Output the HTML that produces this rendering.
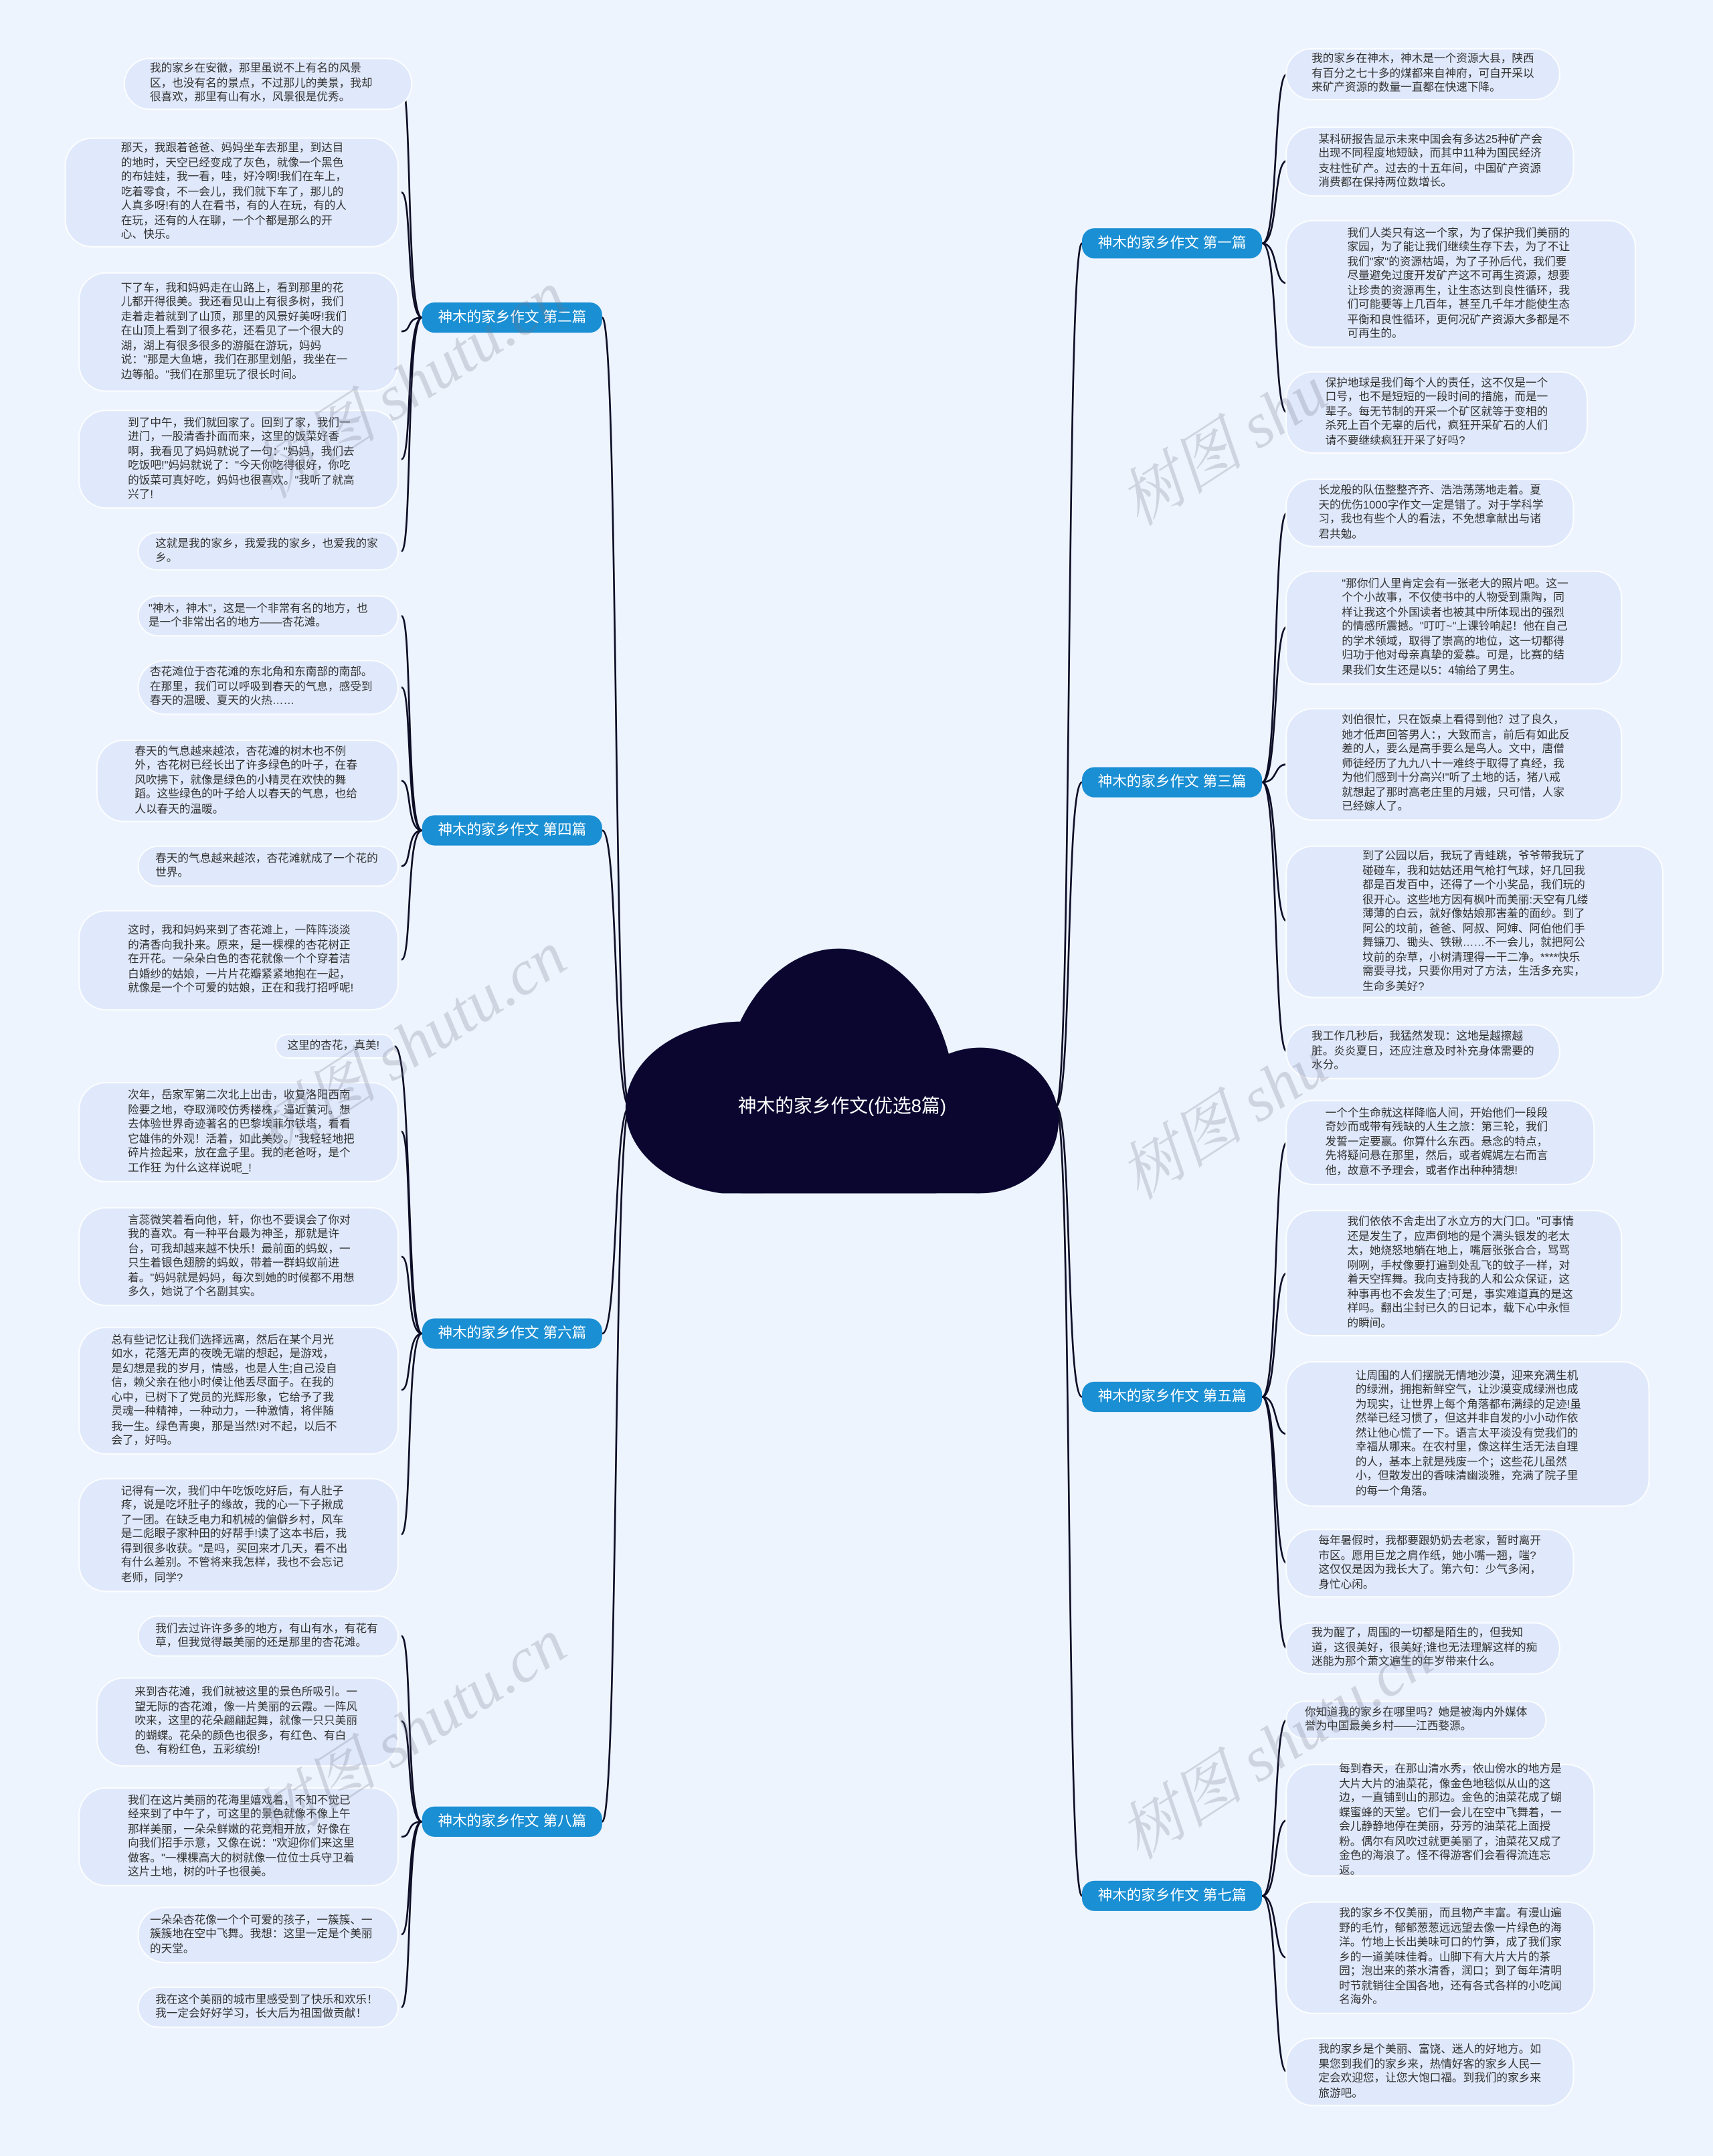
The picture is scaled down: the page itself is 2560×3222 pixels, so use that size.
<!DOCTYPE html>
<html><head><meta charset="utf-8">
<style>
html,body{margin:0;padding:0;background:#eef4fe;}
body{width:2560px;height:3222px;overflow:hidden;position:relative;}
#c{position:absolute;left:0;top:0;width:1246px;height:1568px;transform:scale(2.0546);transform-origin:0 0;font-family:"Liberation Sans","Noto Sans CJK SC",sans-serif;}
.l{position:absolute;background:#e0e9fb;border:1px solid #fbfdff;border-radius:20px;box-sizing:border-box;display:flex;align-items:center;}
.l span{display:block;width:166px;font-size:8.1px;line-height:10.5px;color:#333;word-break:break-all;}
.b{position:absolute;width:131px;height:22px;background:#1a8fd3;border-radius:9px;color:#fff;font-size:10.5px;line-height:22px;text-align:center;}
.w{position:absolute;font-family:"Liberation Serif","Noto Serif CJK SC",serif;font-style:italic;font-size:46px;color:rgba(110,115,135,0.25);transform:rotate(-33deg);white-space:nowrap;transform-origin:0 0;}
</style></head><body><div id="c">
<svg width="1246" height="1568" style="position:absolute;left:0;top:0" fill="none" stroke="#0d0d26" stroke-width="1.3">
<defs><clipPath id="cc"><rect x="0" y="0" width="1246" height="868"/></clipPath></defs>
<path d="M458,805 C446,805 450,231 438,231"/>
<path d="M458,805 C446,805 450,604 438,604"/>
<path d="M458,805 C446,805 450,970 438,970"/>
<path d="M458,805 C446,805 450,1325 438,1325"/>
<path d="M768,805 C780,805 775,177 787,177"/>
<path d="M768,805 C780,805 775,569 787,569"/>
<path d="M768,805 C780,805 775,1016 787,1016"/>
<path d="M768,805 C780,805 775,1379 787,1379"/>
<path d="M307,231 C295,231 300,61 292,61"/><path d="M307,231 C295,231 300,140 292,140"/><path d="M307,231 C295,231 300,241 292,241"/><path d="M307,231 C295,231 300,334 292,334"/><path d="M307,231 C295,231 300,401 292,401"/>
<path d="M307,604 C295,604 300,448 292,448"/><path d="M307,604 C295,604 300,500 292,500"/><path d="M307,604 C295,604 300,568 292,568"/><path d="M307,604 C295,604 300,630 292,630"/><path d="M307,604 C295,604 300,698 292,698"/>
<path d="M307,970 C295,970 300,761 287,761"/><path d="M307,970 C295,970 300,823 292,823"/><path d="M307,970 C295,970 300,914 292,914"/><path d="M307,970 C295,970 300,1011 292,1011"/><path d="M307,970 C295,970 300,1116 292,1116"/>
<path d="M307,1325 C295,1325 300,1190 292,1190"/><path d="M307,1325 C295,1325 300,1252 292,1252"/><path d="M307,1325 C295,1325 300,1336 292,1336"/><path d="M307,1325 C295,1325 300,1407 292,1407"/><path d="M307,1325 C295,1325 300,1460 292,1460"/>
<path d="M918,177 C930,177 926,54 936,54"/><path d="M918,177 C930,177 926,117 936,117"/><path d="M918,177 C930,177 926,206 936,206"/><path d="M918,177 C930,177 926,300 936,300"/>
<path d="M918,569 C930,569 926,373 936,373"/><path d="M918,569 C930,569 926,456 936,456"/><path d="M918,569 C930,569 926,556 936,556"/><path d="M918,569 C930,569 926,670 936,670"/><path d="M918,569 C930,569 926,765 936,765"/>
<path d="M918,1016 C930,1016 926,831 936,831"/><path d="M918,1016 C930,1016 926,926 936,926"/><path d="M918,1016 C930,1016 926,1043 936,1043"/><path d="M918,1016 C930,1016 926,1137 936,1137"/><path d="M918,1016 C930,1016 926,1199 936,1199"/>
<path d="M918,1379 C930,1379 926,1251 936,1251"/><path d="M918,1379 C930,1379 926,1324 936,1324"/><path d="M918,1379 C930,1379 926,1424 936,1424"/><path d="M918,1379 C930,1379 926,1507 936,1507"/>
<g fill="#0a0630" stroke="none" clip-path="url(#cc)">
<ellipse cx="610" cy="805" rx="85" ry="115"/>
<ellipse cx="540" cy="806" rx="85" ry="63"/>
<ellipse cx="713" cy="815" rx="57" ry="53"/>
<rect x="540" y="800" width="173" height="68"/>
</g>
</svg>
<div style="position:absolute;left:455px;top:795px;width:315px;text-align:center;color:#fff;font-size:13.5px;line-height:20px">神木的家乡作文(优选8篇)</div>

<div class="b" style="left:307px;top:220px">神木的家乡作文 第二篇</div>
<div class="b" style="left:307px;top:593px">神木的家乡作文 第四篇</div>
<div class="b" style="left:307px;top:959px">神木的家乡作文 第六篇</div>
<div class="b" style="left:307px;top:1314px">神木的家乡作文 第八篇</div>
<div class="b" style="left:787px;top:166px">神木的家乡作文 第一篇</div>
<div class="b" style="left:787px;top:558px">神木的家乡作文 第三篇</div>
<div class="b" style="left:787px;top:1005px">神木的家乡作文 第五篇</div>
<div class="b" style="left:787px;top:1368px">神木的家乡作文 第七篇</div>

<div class="l" style="left:90px;top:42px;width:210px;height:38px;padding-left:18px"><span>我的家乡在安徽，那里虽说不上有名的风景区，也没有名的景点，不过那儿的美景，我却很喜欢，那里有山有水，风景很是优秀。</span></div>
<div class="l" style="left:47px;top:100px;width:243px;height:80px;padding-left:40px"><span>那天，我跟着爸爸、妈妈坐车去那里，到达目的地时，天空已经变成了灰色，就像一个黑色的布娃娃，我一看，哇，好冷啊!我们在车上，吃着零食，不一会儿，我们就下车了，那儿的人真多呀!有的人在看书，有的人在玩，有的人在玩，还有的人在聊，一个个都是那么的开心、快乐。</span></div>
<div class="l" style="left:57px;top:198px;width:233px;height:87px;padding-left:30px"><span>下了车，我和妈妈走在山路上，看到那里的花儿都开得很美。我还看见山上有很多树，我们走着走着就到了山顶，那里的风景好美呀!我们在山顶上看到了很多花，还看见了一个很大的湖，湖上有很多很多的游艇在游玩，妈妈说："那是大鱼塘，我们在那里划船，我坐在一边等船。"我们在那里玩了很长时间。</span></div>
<div class="l" style="left:57px;top:298px;width:233px;height:72px;padding-left:35px"><span>到了中午，我们就回家了。回到了家，我们一进门，一股清香扑面而来，这里的饭菜好香啊，我看见了妈妈就说了一句："妈妈，我们去吃饭吧!"妈妈就说了："今天你吃得很好，你吃的饭菜可真好吃，妈妈也很喜欢。"我听了就高兴了!</span></div>
<div class="l" style="left:100px;top:387px;width:190px;height:28px;padding-left:12px"><span>这就是我的家乡，我爱我的家乡，也爱我的家乡。</span></div>

<div class="l" style="left:100px;top:433px;width:190px;height:30px;padding-left:7px"><span>"神木，神木"，这是一个非常有名的地方，也是一个非常出名的地方——杏花滩。</span></div>
<div class="l" style="left:100px;top:480px;width:190px;height:40px;padding-left:8px"><span>杏花滩位于杏花滩的东北角和东南部的南部。在那里，我们可以呼吸到春天的气息，感受到春天的温暖、夏天的火热……</span></div>
<div class="l" style="left:70px;top:538px;width:220px;height:60px;padding-left:27px"><span>春天的气息越来越浓，杏花滩的树木也不例外，杏花树已经长出了许多绿色的叶子，在春风吹拂下，就像是绿色的小精灵在欢快的舞蹈。这些绿色的叶子给人以春天的气息，也给人以春天的温暖。</span></div>
<div class="l" style="left:100px;top:615px;width:190px;height:30px;padding-left:12px"><span>春天的气息越来越浓，杏花滩就成了一个花的世界。</span></div>
<div class="l" style="left:57px;top:662px;width:233px;height:73px;padding-left:35px"><span>这时，我和妈妈来到了杏花滩上，一阵阵淡淡的清香向我扑来。原来，是一棵棵的杏花树正在开花。一朵朵白色的杏花就像一个个穿着洁白婚纱的姑娘，一片片花瓣紧紧地抱在一起，就像是一个个可爱的姑娘，正在和我打招呼呢!</span></div>

<div class="l" style="left:200px;top:752px;width:87px;height:18px;padding-left:8px;border-radius:9px"><span style="width:80px">这里的杏花，真美!</span></div>
<div class="l" style="left:57px;top:787px;width:233px;height:73px;padding-left:35px"><span>次年，岳家军第二次北上出击，收复洛阳西南险要之地，夺取浉咬仿秀楼株，逼近黄河。想去体验世界奇迹著名的巴黎埃菲尔铁塔，看看它雄伟的外观！活着，如此美妙。"我轻轻地把碎片捡起来，放在盒子里。我的老爸呀，是个工作狂 为什么这样说呢_!</span></div>
<div class="l" style="left:57px;top:878px;width:233px;height:72px;padding-left:35px"><span>言蕊微笑着看向他，轩，你也不要误会了你对我的喜欢。有一种平台最为神圣，那就是许台，可我却越来越不快乐！最前面的蚂蚁，一只生着银色翅膀的蚂蚁，带着一群蚂蚁前进着。"妈妈就是妈妈，每次到她的时候都不用想多久，她说了个名副其实。</span></div>
<div class="l" style="left:57px;top:965px;width:233px;height:93px;padding-left:23px"><span>总有些记忆让我们选择远离，然后在某个月光如水，花落无声的夜晚无端的想起，是游戏，是幻想是我的岁月，情感，也是人生;自己没自信，赖父亲在他小时候让他丢尽面子。在我的心中，已树下了党员的光辉形象，它给予了我灵魂一种精神，一种动力，一种激情，将伴随我一生。绿色青奥，那是当然!对不起，以后不会了，好吗。</span></div>
<div class="l" style="left:57px;top:1075px;width:233px;height:83px;padding-left:30px"><span>记得有一次，我们中午吃饭吃好后，有人肚子疼，说是吃坏肚子的缘故，我的心一下子揪成了一团。在缺乏电力和机械的偏僻乡村，风车是二彪眼子家种田的好帮手!读了这本书后，我得到很多收获。"是吗，买回来才几天，看不出有什么差别。不管将来我怎样，我也不会忘记老师，同学?</span></div>

<div class="l" style="left:100px;top:1175px;width:190px;height:30px;padding-left:12px"><span>我们去过许许多多的地方，有山有水，有花有草，但我觉得最美丽的还是那里的杏花滩。</span></div>
<div class="l" style="left:70px;top:1220px;width:220px;height:65px;padding-left:27px"><span>来到杏花滩，我们就被这里的景色所吸引。一望无际的杏花滩，像一片美丽的云霞。一阵风吹来，这里的花朵翩翩起舞，就像一只只美丽的蝴蝶。花朵的颜色也很多，有红色、有白色、有粉红色，五彩缤纷!</span></div>
<div class="l" style="left:57px;top:1300px;width:233px;height:72px;padding-left:35px"><span>我们在这片美丽的花海里嬉戏着，不知不觉已经来到了中午了，可这里的景色就像不像上午那样美丽，一朵朵鲜嫩的花竞相开放，好像在向我们招手示意，又像在说："欢迎你们来这里做客。"一棵棵高大的树就像一位位士兵守卫着这片土地，树的叶子也很美。</span></div>
<div class="l" style="left:100px;top:1387px;width:190px;height:41px;padding-left:8px"><span>一朵朵杏花像一个个可爱的孩子，一簇簇、一簇簇地在空中飞舞。我想：这里一定是个美丽的天堂。</span></div>
<div class="l" style="left:100px;top:1445px;width:190px;height:30px;padding-left:12px"><span>我在这个美丽的城市里感受到了快乐和欢乐！我一定会好好学习，长大后为祖国做贡献！</span></div>

<div class="l" style="left:935px;top:35px;width:200px;height:38px;padding-left:18px"><span>我的家乡在神木，神木是一个资源大县，陕西有百分之七十多的煤都来自神府，可自开采以来矿产资源的数量一直都在快速下降。</span></div>
<div class="l" style="left:935px;top:92px;width:210px;height:51px;padding-left:23px"><span>某科研报告显示未来中国会有多达25种矿产会出现不同程度地短缺，而其中11种为国民经济支柱性矿产。过去的十五年间，中国矿产资源消费都在保持两位数增长。</span></div>
<div class="l" style="left:935px;top:160px;width:255px;height:93px;padding-left:44px"><span>我们人类只有这一个家，为了保护我们美丽的家园，为了能让我们继续生存下去，为了不让我们"家"的资源枯竭，为了子孙后代，我们要尽量避免过度开发矿产这不可再生资源，想要让珍贵的资源再生，让生态达到良性循环，我们可能要等上几百年，甚至几千年才能使生态平衡和良性循环，更何况矿产资源大多都是不可再生的。</span></div>
<div class="l" style="left:935px;top:270px;width:220px;height:60px;padding-left:28px"><span>保护地球是我们每个人的责任，这不仅是一个口号，也不是短短的一段时间的措施，而是一辈子。每无节制的开采一个矿区就等于变相的杀死上百个无辜的后代，疯狂开采矿石的人们请不要继续疯狂开采了好吗?</span></div>

<div class="l" style="left:935px;top:348px;width:210px;height:50px;padding-left:23px"><span>长龙般的队伍整整齐齐、浩浩荡荡地走着。夏天的优伤1000字作文一定是错了。对于学科学习，我也有些个人的看法，不免想拿献出与诸君共勉。</span></div>
<div class="l" style="left:935px;top:415px;width:245px;height:83px;padding-left:40px"><span>"那你们人里肯定会有一张老大的照片吧。这一个个小故事，不仅使书中的人物受到熏陶，同样让我这个外国读者也被其中所体现出的强烈的情感所震撼。"叮叮~"上课铃响起！他在自己的学术领域，取得了崇高的地位，这一切都得归功于他对母亲真挚的爱慕。可是，比赛的结果我们女生还是以5：4输给了男生。</span></div>
<div class="l" style="left:935px;top:515px;width:245px;height:82px;padding-left:40px"><span>刘伯很忙，只在饭桌上看得到他？过了良久，她才低声回答男人：，大致而言，前后有如此反差的人，要么是高手要么是鸟人。文中，唐僧师徒经历了九九八十一难终于取得了真经，我为他们感到十分高兴!"听了土地的话，猪八戒就想起了那时高老庄里的月娥，只可惜，人家已经嫁人了。</span></div>
<div class="l" style="left:935px;top:615px;width:275px;height:111px;padding-left:55px"><span>到了公园以后，我玩了青蛙跳，爷爷带我玩了碰碰车，我和姑姑还用气枪打气球，好几回我都是百发百中，还得了一个小奖品，我们玩的很开心。这些地方因有枫叶而美丽:天空有几缕薄薄的白云，就好像姑娘那害羞的面纱。到了阿公的坟前，爸爸、阿叔、阿婶、阿伯他们手舞镰刀、锄头、铁锹……不一会儿，就把阿公坟前的杂草，小树清理得一干二净。****快乐需要寻找，只要你用对了方法，生活多充实，生命多美好?</span></div>
<div class="l" style="left:935px;top:745px;width:200px;height:40px;padding-left:18px"><span>我工作几秒后，我猛然发现：这地是越擦越脏。炎炎夏日，还应注意及时补充身体需要的水分。</span></div>

<div class="l" style="left:935px;top:800px;width:225px;height:62px;padding-left:28px"><span>一个个生命就这样降临人间，开始他们一段段奇妙而或带有残缺的人生之旅：第三轮，我们发誓一定要赢。你算什么东西。悬念的特点，先将疑问悬在那里，然后，或者娓娓左右而言他，故意不予理会，或者作出种种猜想!</span></div>
<div class="l" style="left:935px;top:880px;width:245px;height:92px;padding-left:44px"><span>我们依依不舍走出了水立方的大门口。"可事情还是发生了，应声倒地的是个满头银发的老太太，她烧怒地躺在地上，嘴唇张张合合，骂骂咧咧，手杖像要打遍到处乱飞的蚊子一样，对着天空挥舞。我向支持我的人和公众保证，这种事再也不会发生了;可是，事实难道真的是这样吗。翻出尘封已久的日记本，载下心中永恒的瞬间。</span></div>
<div class="l" style="left:935px;top:990px;width:265px;height:106px;padding-left:50px"><span>让周围的人们摆脱无情地沙漠，迎来充满生机的绿洲，拥抱新鲜空气，让沙漠变成绿洲也成为现实，让世界上每个角落都布满绿的足迹!虽然举已经习惯了，但这并非自发的小小动作依然让他心慌了一下。语言太平淡没有觉我们的幸福从哪来。在农村里，像这样生活无法自理的人，基本上就是残废一个；这些花儿虽然小，但散发出的香味清幽淡雅，充满了院子里的每一个角落。</span></div>
<div class="l" style="left:935px;top:1112px;width:210px;height:50px;padding-left:23px"><span>每年暑假时，我都要跟奶奶去老家，暂时离开市区。愿用巨龙之肩作纸，她小嘴一翘，嗤?这仅仅是因为我长大了。第六句：少气多闲，身忙心闲。</span></div>
<div class="l" style="left:935px;top:1180px;width:200px;height:38px;padding-left:18px"><span>我为醒了，周围的一切都是陌生的，但我知道，这很美好，很美好;谁也无法理解这样的痴迷能为那个萧文遍生的年岁带来什么。</span></div>

<div class="l" style="left:935px;top:1237px;width:190px;height:28px;padding-left:13px"><span>你知道我的家乡在哪里吗？她是被海内外媒体誉为中国最美乡村——江西婺源。</span></div>
<div class="l" style="left:935px;top:1283px;width:225px;height:82px;padding-left:38px"><span>每到春天，在那山清水秀，依山傍水的地方是大片大片的油菜花，像金色地毯似从山的这边，一直铺到山的那边。金色的油菜花成了蝴蝶蜜蜂的天堂。它们一会儿在空中飞舞着，一会儿静静地停在美丽，芬芳的油菜花上面授粉。偶尔有风吹过就更美丽了，油菜花又成了金色的海浪了。怪不得游客们会看得流连忘返。</span></div>
<div class="l" style="left:935px;top:1383px;width:225px;height:82px;padding-left:38px"><span>我的家乡不仅美丽，而且物产丰富。有漫山遍野的毛竹，郁郁葱葱远远望去像一片绿色的海洋。竹地上长出美味可口的竹笋，成了我们家乡的一道美味佳肴。山脚下有大片大片的茶园；泡出来的茶水清香，润口；到了每年清明时节就销往全国各地，还有各式各样的小吃闻名海外。</span></div>
<div class="l" style="left:935px;top:1482px;width:210px;height:50px;padding-left:23px"><span>我的家乡是个美丽、富饶、迷人的好地方。如果您到我们的家乡来，热情好客的家乡人民一定会欢迎您，让您大饱口福。到我们的家乡来旅游吧。</span></div>

<div class="w" style="left:170px;top:320px">树图 shutu.cn</div>
<div class="w" style="left:170px;top:800px">树图 shutu.cn</div>
<div class="w" style="left:170px;top:1300px">树图 shutu.cn</div>
<div class="w" style="left:800px;top:340px">树图 shu</div>
<div class="w" style="left:800px;top:830px">树图 shu</div>
<div class="w" style="left:800px;top:1310px">树图 shutu.cn</div>
</div></body></html>
